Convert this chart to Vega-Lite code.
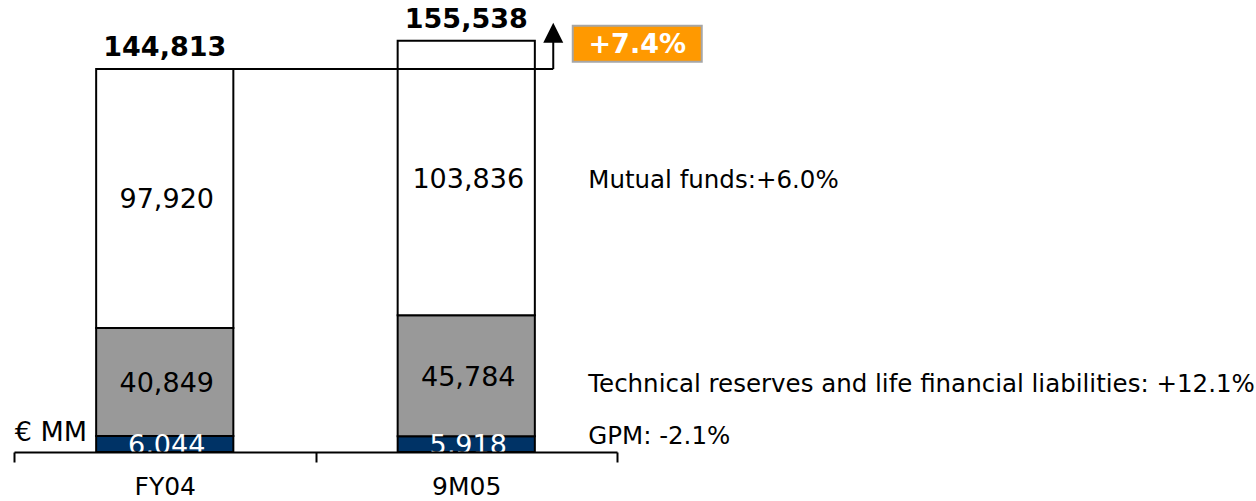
{
  "$schema": "https://vega.github.io/schema/vega-lite/v6.json",
  "width": 603,
  "height": 452,
  "autosize": "none",
  "padding": {"left": 14, "top": 0, "right": 639, "bottom": 49},
  "background": "white",
  "config": {"view": {"stroke": null}, "font": "DejaVu Sans"},
  "datasets": {
    "segments": [
      {"period": "FY04", "segment": "GPM", "rank": 1, "value": 6044, "note": "GPM: -2.1%"},
      {"period": "FY04", "segment": "Technical reserves and life financial liabilities", "rank": 2, "value": 40849, "note": "Technical reserves and life financial liabilities: +12.1%"},
      {"period": "FY04", "segment": "Mutual funds", "rank": 3, "value": 97920, "note": "Mutual funds:+6.0%"},
      {"period": "9M05", "segment": "GPM", "rank": 1, "value": 5918, "note": "GPM: -2.1%"},
      {"period": "9M05", "segment": "Technical reserves and life financial liabilities", "rank": 2, "value": 45784, "note": "Technical reserves and life financial liabilities: +12.1%"},
      {"period": "9M05", "segment": "Mutual funds", "rank": 3, "value": 103836, "note": "Mutual funds:+6.0%"}
    ],
    "growth": [
      {"from_period": "FY04", "to_period": "9M05", "from_total": 144813, "to_total": 155538, "change": "+7.4%", "unit": "€ MM"}
    ]
  },
  "encoding": {
    "x": {
      "field": "period",
      "type": "nominal",
      "sort": null,
      "scale": {"domain": ["FY04", "9M05"], "paddingInner": 0, "paddingOuter": 0},
      "axis": {
        "title": null,
        "labelAngle": 0,
        "tickBand": "extent",
        "domainColor": "black",
        "domainWidth": 2,
        "tickColor": "black",
        "tickWidth": 2,
        "tickSize": 10,
        "labelFontSize": 25,
        "labelColor": "black",
        "labelFont": "DejaVu Sans",
        "labelPadding": 12,
        "zindex": 1
      }
    }
  },
  "layer": [
    {
      "data": {"name": "segments"},
      "mark": {"type": "bar", "width": {"band": 0.455}, "stroke": "black", "strokeWidth": 2},
      "encoding": {
        "y": {"field": "value", "type": "quantitative", "stack": "zero", "scale": {"domain": [0, 170900], "nice": false, "zero": true}, "axis": null},
        "color": {
          "field": "segment",
          "type": "nominal",
          "scale": {
            "domain": ["GPM", "Technical reserves and life financial liabilities", "Mutual funds"],
            "range": ["#003366", "#999999", "#ffffff"]
          },
          "legend": null
        },
        "order": {"field": "rank", "type": "quantitative", "sort": "ascending"}
      }
    },
    {
      "data": {"name": "segments"},
      "mark": {"type": "text", "fontSize": 27, "baseline": "middle", "dy": 2, "dx": 2, "clip": true},
      "encoding": {
        "y": {"field": "value", "type": "quantitative", "stack": "zero", "bandPosition": 0.5},
        "detail": {"field": "segment", "type": "nominal"},
        "order": {"field": "rank", "type": "quantitative", "sort": "ascending"},
        "text": {"field": "value", "type": "quantitative", "format": ","},
        "color": {"condition": {"test": "datum.segment === 'GPM'", "value": "white"}, "value": "black"}
      }
    },
    {
      "data": {"name": "segments"},
      "mark": {"type": "text", "fontSize": 24.5, "baseline": "middle", "align": "left", "dy": 3, "xOffset": 122, "color": "black"},
      "encoding": {
        "y": {"field": "value", "type": "quantitative", "stack": "zero", "bandPosition": 0.5},
        "detail": {"field": "segment", "type": "nominal"},
        "order": {"field": "rank", "type": "quantitative", "sort": "ascending"},
        "text": {"condition": {"test": "datum.period === '9M05' && datum.segment === 'Mutual funds'", "field": "note"}, "value": ""}
      }
    },
    {
      "data": {"name": "segments"},
      "mark": {"type": "text", "fontSize": 24.5, "baseline": "middle", "align": "left", "dy": 9, "xOffset": 122, "color": "black"},
      "encoding": {
        "y": {"field": "value", "type": "quantitative", "stack": "zero", "bandPosition": 0.5},
        "detail": {"field": "segment", "type": "nominal"},
        "order": {"field": "rank", "type": "quantitative", "sort": "ascending"},
        "text": {"condition": {"test": "datum.period === '9M05' && datum.rank === 2", "field": "note"}, "value": ""}
      }
    },
    {
      "data": {"name": "segments"},
      "mark": {"type": "text", "fontSize": 24.5, "baseline": "middle", "align": "left", "dy": -7, "xOffset": 122, "color": "black"},
      "encoding": {
        "y": {"field": "value", "type": "quantitative", "stack": "zero", "bandPosition": 0.5},
        "detail": {"field": "segment", "type": "nominal"},
        "order": {"field": "rank", "type": "quantitative", "sort": "ascending"},
        "text": {"condition": {"test": "datum.period === '9M05' && datum.segment === 'GPM'", "field": "note"}, "value": ""}
      }
    },
    {
      "data": {"name": "segments"},
      "mark": {"type": "text", "fontSize": 27, "fontWeight": "bold", "baseline": "alphabetic", "dy": -13, "color": "black"},
      "encoding": {
        "y": {"aggregate": "sum", "field": "value", "type": "quantitative"},
        "text": {"aggregate": "sum", "field": "value", "type": "quantitative", "format": ","}
      }
    },
    {
      "data": {"name": "growth"},
      "mark": {"type": "rule", "color": "black", "strokeWidth": 2, "xOffset": 68.5, "x2Offset": 87},
      "encoding": {
        "x": {"field": "from_period", "type": "nominal"},
        "x2": {"field": "to_period"},
        "y": {"field": "from_total", "type": "quantitative"}
      }
    },
    {
      "data": {"name": "growth"},
      "mark": {"type": "rule", "color": "black", "strokeWidth": 2, "xOffset": 87},
      "encoding": {
        "x": {"field": "to_period", "type": "nominal"},
        "y": {"field": "from_total", "type": "quantitative"},
        "y2": {"field": "to_total"}
      }
    },
    {
      "data": {"name": "growth"},
      "mark": {"type": "point", "shape": "M-1,1L1,1L0,-1Z", "size": 400, "filled": true, "color": "black", "opacity": 1, "xOffset": 87, "yOffset": -8},
      "encoding": {
        "x": {"field": "to_period", "type": "nominal"},
        "y": {"field": "to_total", "type": "quantitative"}
      }
    },
    {
      "data": {"name": "growth"},
      "mark": {"type": "point", "shape": "M-1,-0.279L1,-0.279L1,0.279L-1,0.279Z", "size": 16641, "filled": true, "fill": "#ff9900", "stroke": "#a6a6a6", "strokeWidth": 2, "opacity": 1, "xOffset": 171, "yOffset": 3},
      "encoding": {
        "x": {"field": "to_period", "type": "nominal"},
        "y": {"field": "to_total", "type": "quantitative"}
      }
    },
    {
      "data": {"name": "growth"},
      "mark": {"type": "text", "fontSize": 27, "fontWeight": "bold", "color": "white", "baseline": "middle", "align": "center", "xOffset": 171, "yOffset": 4},
      "encoding": {
        "x": {"field": "to_period", "type": "nominal"},
        "y": {"field": "to_total", "type": "quantitative"},
        "text": {"field": "change", "type": "nominal"}
      }
    },
    {
      "data": {"name": "growth"},
      "mark": {"type": "text", "fontSize": 27, "color": "black", "align": "left", "baseline": "alphabetic", "xOffset": -150, "dy": -11},
      "encoding": {
        "x": {"field": "from_period", "type": "nominal"},
        "y": {"datum": 0, "type": "quantitative"},
        "text": {"field": "unit", "type": "nominal"}
      }
    }
  ]
}
